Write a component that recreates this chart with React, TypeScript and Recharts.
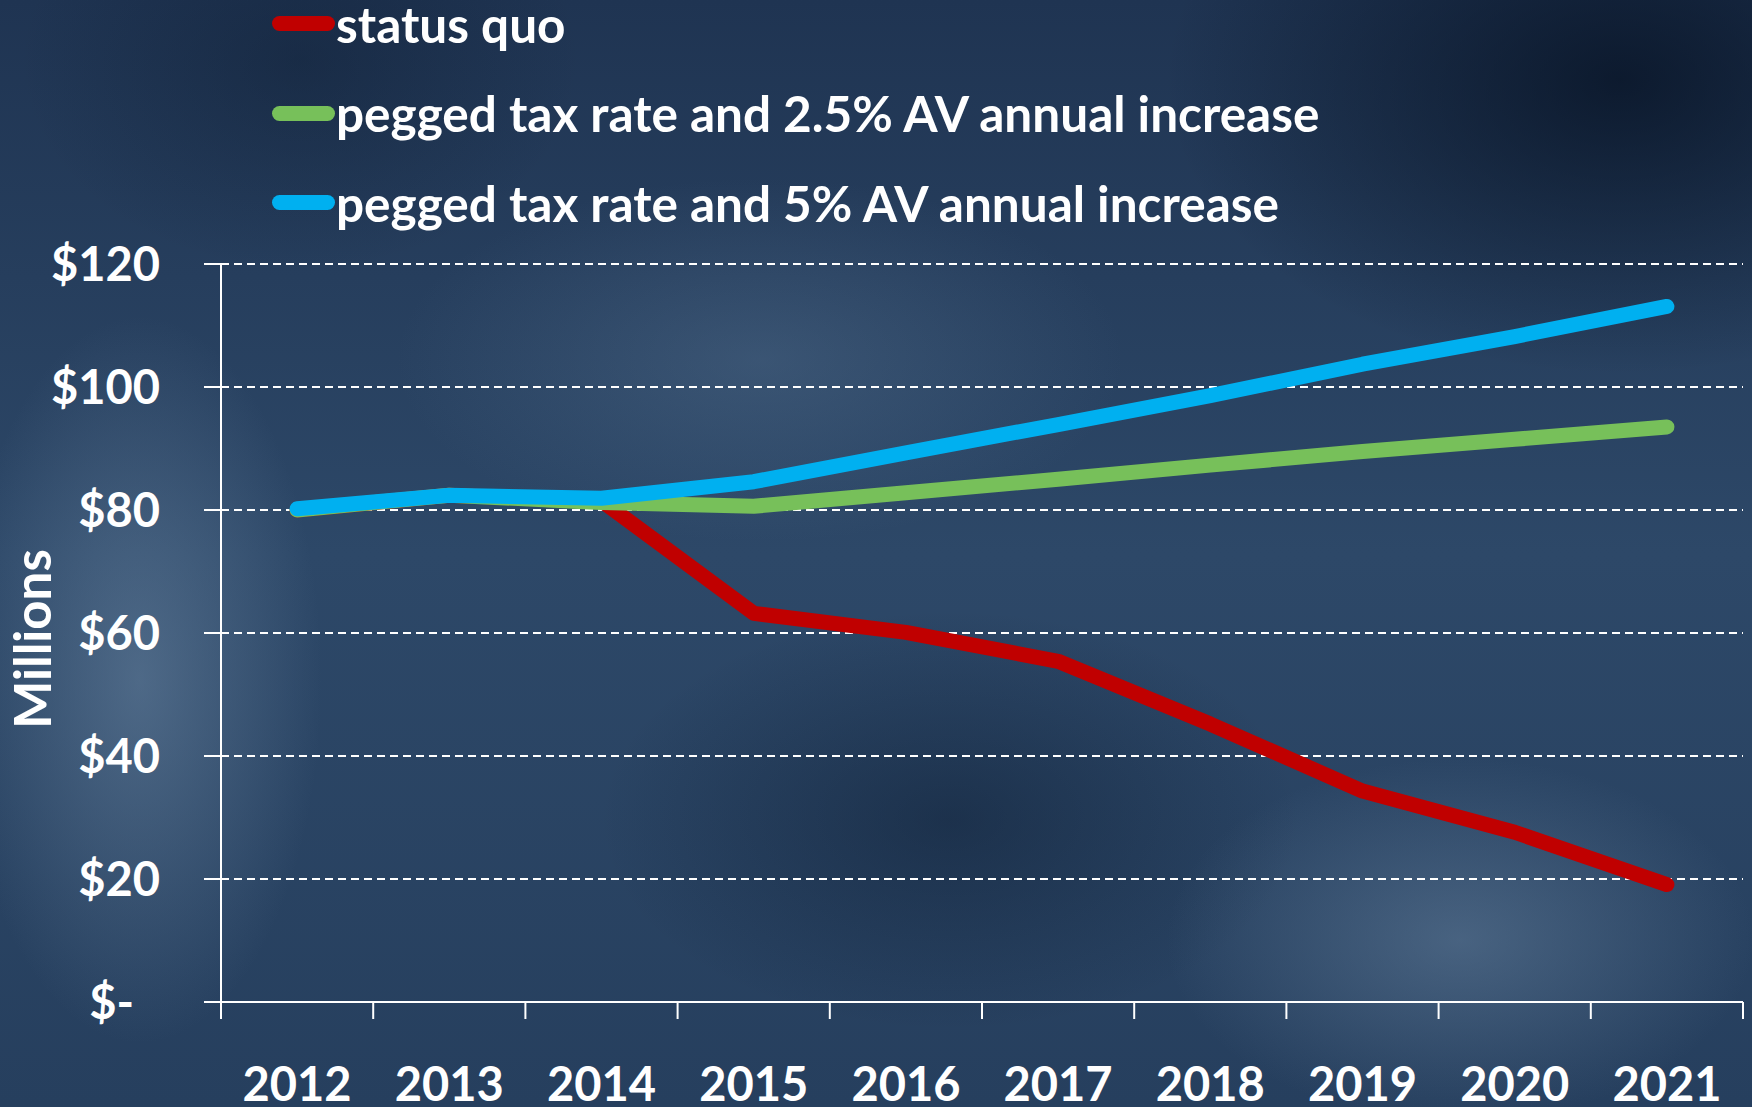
import React from "react";
import { LineChart, Line, XAxis, YAxis, CartesianGrid, Legend } from "recharts";

const years = ["2012", "2013", "2014", "2015", "2016", "2017", "2018", "2019", "2020", "2021"];
const seriesNames = [
    "status quo",
    "pegged tax rate and 2.5% AV annual increase",
    "pegged tax rate and 5% AV annual increase",
];
const statusQuo = [80, 82.4, 81.5, 63.2, 60.1, 55.4, 45.2, 34.3, 27.6, 19.1];
const pegged25 = [80, 82.4, 81.2, 80.6, 82.8, 85, 87.3, 89.5, 91.5, 93.5];
const pegged5 = [80.2, 82.4, 81.9, 84.6, 89.3, 93.9, 98.6, 103.7, 108.2, 113.1];
const yTicks = [0, 20, 40, 60, 80, 100, 120];
const edgeTicks = [0, 1, 2, 3, 4, 5, 6, 7, 8, 9, 10];

const FONT = "Lato, 'Open Sans', sans-serif";

const chartData = years.map((year, i) => ({
    x: i + 0.5,
    year,
    statusQuo: statusQuo[i],
    pegged25: pegged25[i],
    pegged5: pegged5[i],
}));

const YTick = ({ x, y, payload }: any) => (
    <text
        x={x}
        y={y}
        dx={payload.value === 0 ? -26 : 0}
        dy="0.36em"
        textAnchor="end"
        fill="#fff"
        fontFamily={FONT}
        fontWeight={700}
        fontSize={47}
    >
        {payload.value === 0 ? "$-" : `$${payload.value}`}
    </text>
);

// year labels sit between the boundary ticks
const YearTick = ({ x, y, payload, index, width }: any) => {
    if (index >= years.length) return null;
    const half = width / (edgeTicks.length - 1) / 2;
    return (
        <text
            x={x + half}
            y={y}
            dy="0.36em"
            textAnchor="middle"
            fill="#fff"
            fontFamily={FONT}
            fontWeight={700}
            fontSize={47}
        >
            {years[Math.floor(payload.value)]}
        </text>
    );
};

const MillionsLabel = ({ viewBox }: any) => {
    const cx = 31;
    const cy = viewBox.y + viewBox.height / 2 + 6;
    return (
        <text
            x={cx}
            y={cy}
            transform={`rotate(-90, ${cx}, ${cy})`}
            textAnchor="middle"
            dominantBaseline="central"
            fill="#fff"
            fontFamily={FONT}
            fontWeight={700}
            fontSize={51}
        >
            Millions
        </text>
    );
};

const LegendContent = ({ payload }: any) => {
    const items = [...(payload || [])].sort(
        (a: any, b: any) => seriesNames.indexOf(a.value) - seriesNames.indexOf(b.value)
    );
    return (
        <div style={{ display: "flex", flexDirection: "column" }}>
            {items.map((entry: any) => (
                <div
                    key={entry.value}
                    style={{ display: "flex", alignItems: "center", height: 89.5 }}
                >
                    <span
                        style={{
                            display: "inline-block",
                            width: 63,
                            height: 15,
                            borderRadius: 8,
                            background: entry.color,
                            marginRight: 1,
                        }}
                    />
                    <span
                        style={{
                            color: "#fff",
                            fontFamily: FONT,
                            fontWeight: 700,
                            fontSize: 49.5,
                            whiteSpace: "nowrap",
                        }}
                    >
                        {entry.value}
                    </span>
                </div>
            ))}
        </div>
    );
};

const background = [
    "radial-gradient(ellipse 260px 520px at 140px 680px, rgba(120,148,176,0.45), rgba(0,0,0,0) 70%)",
    "radial-gradient(ellipse 420px 260px at 1460px 940px, rgba(120,148,176,0.4), rgba(0,0,0,0) 70%)",
    "radial-gradient(ellipse 520px 260px at 760px 360px, rgba(100,130,160,0.3), rgba(0,0,0,0) 70%)",
    "radial-gradient(ellipse 650px 420px at 1620px 80px, rgba(4,14,30,0.7), rgba(0,0,0,0) 70%)",
    "radial-gradient(ellipse 500px 300px at 950px 820px, rgba(8,22,42,0.4), rgba(0,0,0,0) 70%)",
    "radial-gradient(ellipse 400px 300px at 300px 60px, rgba(10,24,44,0.35), rgba(0,0,0,0) 70%)",
    "linear-gradient(180deg, #1f3452 0%, #2d4868 50%, #263f5e 100%)",
].join(", ");

export default function App() {
    return (
        <div
            style={{
                position: "absolute",
                left: 0,
                top: 0,
                width: 1752,
                height: 1107,
                background,
                overflow: "hidden",
            }}
        >
            <LineChart
                width={1752}
                height={1107}
                data={chartData}
                margin={{ top: 34, right: 9, left: 0, bottom: 0 }}
            >
                <Legend
                    verticalAlign="top"
                    align="left"
                    layout="horizontal"
                    content={<LegendContent />}
                    wrapperStyle={{ top: -21, left: 272, width: 1400, height: 230 }}
                />
                <CartesianGrid
                    vertical={false}
                    stroke="#ffffff"
                    strokeWidth={2}
                    strokeDasharray="8 5"
                />
                <XAxis
                    type="number"
                    dataKey="x"
                    domain={[0, 10]}
                    ticks={edgeTicks}
                    tick={<YearTick />}
                    tickSize={17}
                    tickMargin={65}
                    tickLine={{ stroke: "#fff", strokeWidth: 2 }}
                    axisLine={{ stroke: "#fff", strokeWidth: 2 }}
                    height={105}
                    interval={0}
                />
                <YAxis
                    domain={[0, 120]}
                    ticks={yTicks}
                    width={221}
                    tickSize={17}
                    tickMargin={44}
                    tick={<YTick />}
                    tickLine={{ stroke: "#fff", strokeWidth: 2 }}
                    axisLine={{ stroke: "#fff", strokeWidth: 2 }}
                    label={<MillionsLabel />}
                />
                <Line
                    type="linear"
                    dataKey="statusQuo"
                    name={seriesNames[0]}
                    stroke="#c00000"
                    strokeWidth={15}
                    strokeLinecap="round"
                    strokeLinejoin="round"
                    dot={false}
                    isAnimationActive={false}
                />
                <Line
                    type="linear"
                    dataKey="pegged25"
                    name={seriesNames[1]}
                    stroke="#77c05a"
                    strokeWidth={15}
                    strokeLinecap="round"
                    strokeLinejoin="round"
                    dot={false}
                    isAnimationActive={false}
                />
                <Line
                    type="linear"
                    dataKey="pegged5"
                    name={seriesNames[2]}
                    stroke="#00b0f0"
                    strokeWidth={15}
                    strokeLinecap="round"
                    strokeLinejoin="round"
                    dot={false}
                    isAnimationActive={false}
                />
            </LineChart>
        </div>
    );
}
